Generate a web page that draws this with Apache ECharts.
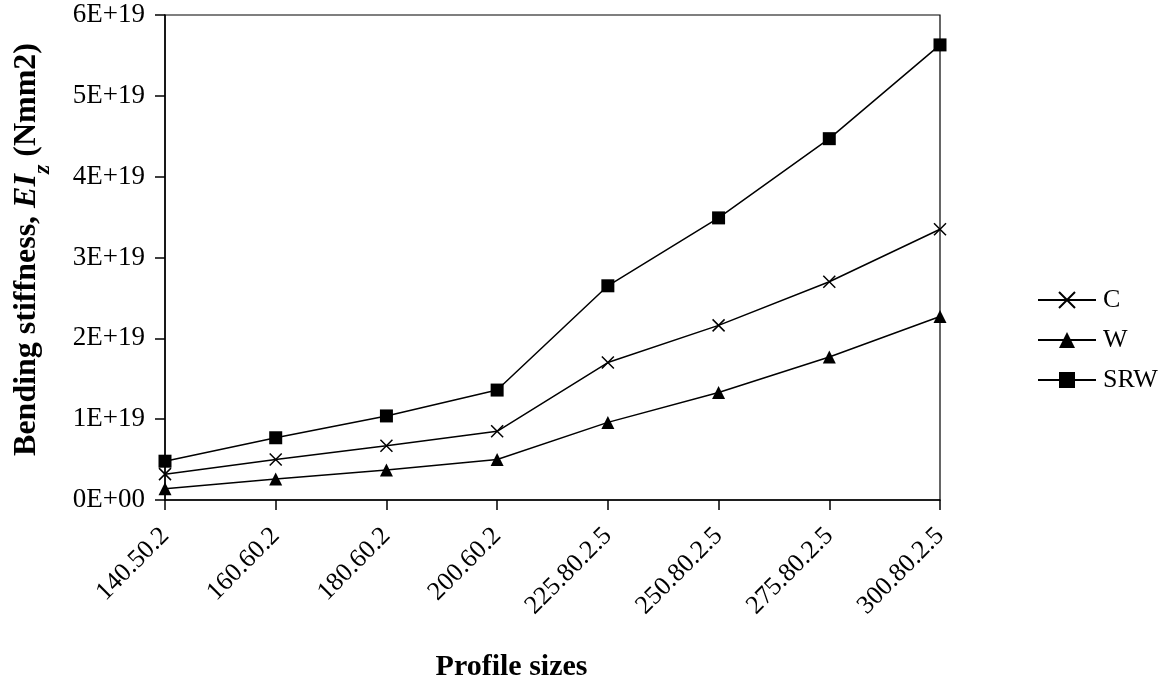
<!DOCTYPE html>
<html>
<head>
<meta charset="utf-8">
<script src="https://cdn.jsdelivr.net/npm/echarts@6/dist/echarts.min.js"></script>
<style>
  html, body { margin: 0; padding: 0; background: #fff; }
  #chart { width: 1169px; height: 682px; }
</style>
</head>
<body>
<div id="chart"></div>
<script>
// Profile sizes along the horizontal axis
const profiles = ['140.50.2', '160.60.2', '180.60.2', '200.60.2',
                  '225.80.2.5', '250.80.2.5', '275.80.2.5', '300.80.2.5'];

// Bending stiffness EIz (Nmm2) per section type
const valuesC   = [0.32e19, 0.50e19, 0.67e19, 0.85e19, 1.70e19, 2.16e19, 2.70e19, 3.35e19];
const valuesW   = [0.14e19, 0.26e19, 0.37e19, 0.50e19, 0.96e19, 1.33e19, 1.77e19, 2.27e19];
const valuesSRW = [0.48e19, 0.77e19, 1.04e19, 1.36e19, 2.65e19, 3.49e19, 4.47e19, 5.63e19];

// Y-axis tick values
const yTicks = [0, 1e19, 2e19, 3e19, 4e19, 5e19, 6e19];

const FONT = '"Liberation Serif", "Times New Roman", serif';
const INK = '#000';

function sci(v) {
  if (v === 0) return '0E+00';
  const exp = Math.floor(Math.log10(Math.abs(v)) + 1e-9);
  const mant = Math.round(v / Math.pow(10, exp));
  return mant + 'E+' + String(exp).padStart(2, '0');
}

const crossSymbol = 'path://M0,0L10,10M10,0L0,10';

function makeSeries(name, data, symbol, size, extra) {
  return Object.assign({
    name: name,
    type: 'line',
    data: data,
    symbol: symbol,
    symbolSize: size,
    showAllSymbol: true,
    color: INK,
    lineStyle: { color: INK, width: 1.5 },
    itemStyle: { color: INK },
    emphasis: { disabled: true },
    z: 3
  }, extra || {});
}

const chart = echarts.init(document.getElementById('chart'), null, { renderer: 'canvas' });

chart.setOption({
  backgroundColor: '#fff',
  animation: false,
  textStyle: { fontFamily: FONT, color: INK },
  grid: {
    left: 165, right: 229, top: 15, bottom: 182,
    containLabel: false,
    outerBoundsMode: 'none',
    show: true, borderColor: INK, borderWidth: 1.2, backgroundColor: 'transparent'
  },
  legend: {
    orient: 'vertical',
    left: 1032,
    top: 282,
    itemWidth: 58,
    itemHeight: 20,
    itemGap: 14,
    data: ['C', 'W', 'SRW'],
    textStyle: { fontFamily: FONT, fontSize: 26, color: INK, padding: [0, 0, 0, 2] }
  },
  xAxis: {
    type: 'category',
    data: profiles,
    boundaryGap: false,
    axisLine: { lineStyle: { color: INK, width: 1.5 } },
    axisTick: { show: true, length: 10, alignWithLabel: true, lineStyle: { color: INK, width: 1.5 } },
    axisLabel: {
      interval: 0, rotate: 45, margin: 32,
      fontFamily: FONT, fontSize: 26, color: INK
    },
    name: 'Profile sizes',
    nameLocation: 'middle',
    nameGap: 152,
    nameTextStyle: {
      fontFamily: FONT, fontSize: 30, fontWeight: 'bold', color: INK,
      padding: [0, 82, 0, 0]
    }
  },
  yAxis: {
    type: 'value',
    min: 0, max: 6e19, interval: 1e19,
    splitLine: { show: false },
    axisLine: { show: true, lineStyle: { color: INK, width: 1.5 } },
    axisTick: { show: true, length: 10, lineStyle: { color: INK, width: 1.5 } },
    axisLabel: {
      margin: 20,
      fontFamily: FONT, fontSize: 27, color: INK,
      formatter: function (v) { return yTicks.indexOf(v) >= 0 ? sci(v) : ''; }
    },
    name: '{b|Bending stiffness, }{i|EI}{s|z}{b| (Nmm2)}',
    nameLocation: 'middle',
    nameRotate: 90,
    nameGap: 122,
    nameTextStyle: {
      padding: [0, 0, 0, 16],
      rich: {
        b: { fontFamily: FONT, fontSize: 32, fontWeight: 'bold', color: INK },
        i: { fontFamily: FONT, fontSize: 32, fontWeight: 'bold', fontStyle: 'italic', color: INK },
        s: { fontFamily: FONT, fontSize: 24, fontWeight: 'bold', fontStyle: 'italic', color: INK,
             verticalAlign: 'bottom', padding: [0, 0, -12, 0] }
      }
    }
  },
  series: [
    makeSeries('C', valuesC, crossSymbol, 12, {
      itemStyle: { color: INK, borderColor: INK, borderWidth: 1.5 }
    }),
    makeSeries('W', valuesW, 'triangle', 13),
    makeSeries('SRW', valuesSRW, 'rect', 13)
  ]
});
</script>
</body>
</html>
